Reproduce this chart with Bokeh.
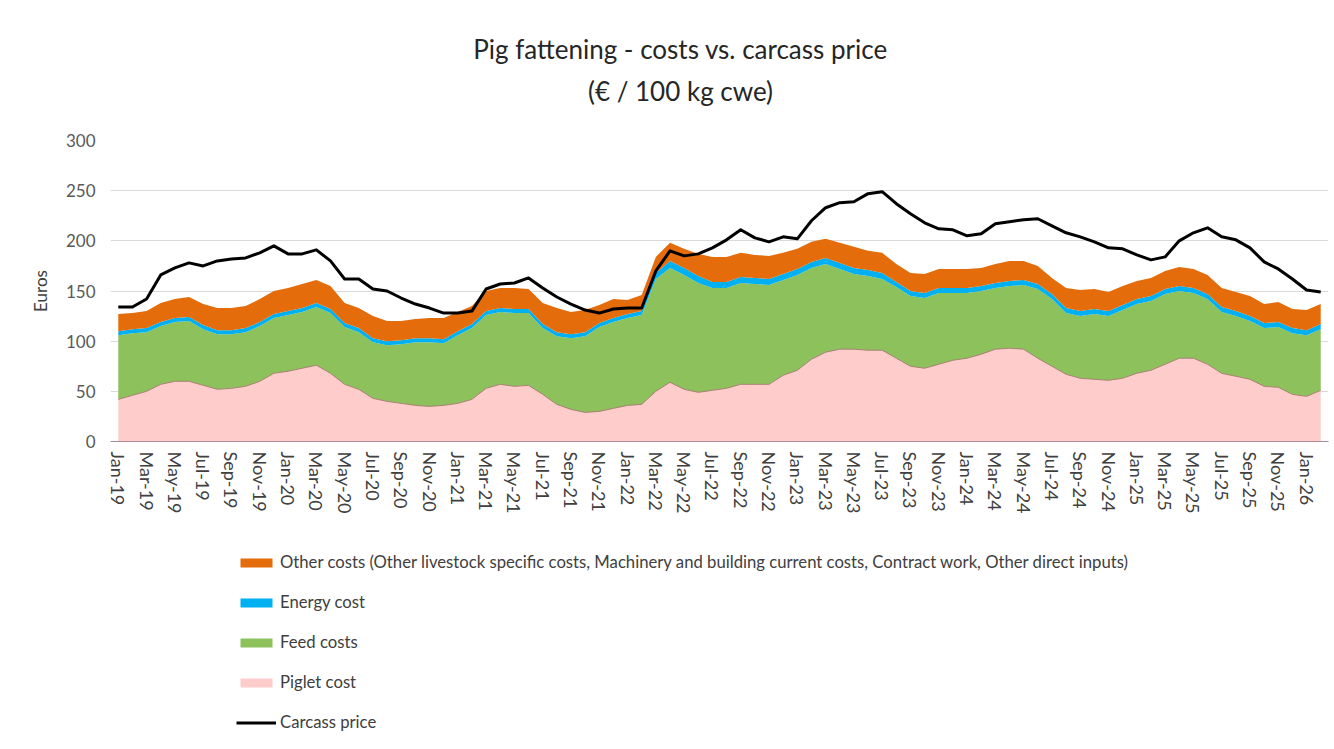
from bokeh.plotting import figure
from bokeh.models import (ColumnDataSource, Range1d, FixedTicker, Legend, LegendItem)
from bokeh.layouts import column
from bokeh.core.properties import value
from bokeh.embed import file_html
from bokeh.resources import INLINE

# ---------------- data (EUR / 100 kg cwe), Jan-19 .. Feb-26 ----------------
month_names = ["Jan", "Feb", "Mar", "Apr", "May", "Jun",
               "Jul", "Aug", "Sep", "Oct", "Nov", "Dec"]
years = ["19", "20", "21", "22", "23", "24", "25", "26"]
month_labels = [f"{m}-{y}" for y in years for m in month_names][:86]

piglet = [42, 46, 50, 57, 60, 60, 56, 52, 53, 55, 60, 68,
          70, 73, 76, 68, 57, 52, 43, 40, 38, 36, 35, 36,
          38, 42, 53, 57, 55, 56, 47, 37, 32, 29, 30, 33,
          36, 37, 50, 59, 52, 49, 51, 53, 57, 57, 57, 66,
          71, 82, 89, 92, 92, 91, 91, 83, 75, 73, 77, 81,
          83, 87, 92, 93, 92, 83, 75, 67, 63, 62, 61, 63,
          68, 71, 77, 83, 83, 77, 68, 65, 62, 55, 54, 47,
          45, 51]

feed = [64, 62, 59, 58, 59, 60, 56, 55, 54, 54, 55, 55,
        56, 56, 58, 60, 57, 57, 56, 56, 59, 63, 64, 62,
        68, 71, 73, 72, 73, 72, 66, 68, 71, 76, 84, 86,
        87, 89, 112, 114, 114, 109, 102, 100, 101, 100, 99, 95,
        95, 91, 88, 80, 75, 74, 71, 71, 70, 70, 71, 67,
        65, 63, 61, 62, 64, 69, 67, 61, 62, 65, 64, 68,
        69, 69, 70, 67, 65, 65, 61, 60, 58, 58, 60, 61,
        61, 61]

energy = [4, 4, 4, 4, 4, 4, 4, 4, 4, 4, 4, 4,
          4, 4, 4, 4, 4, 4, 4, 4, 4, 4, 4, 4,
          4, 4, 4, 4, 4, 4, 4, 4, 4, 4, 4, 4,
          4, 4, 6, 7, 7, 7, 6, 6, 6, 6, 6, 6,
          6, 6, 6, 6, 6, 6, 6, 5, 5, 5, 5, 5,
          5, 5, 5, 5, 5, 5, 5, 5, 5, 5, 5, 5,
          5, 5, 5, 5, 5, 5, 5, 5, 5, 5, 5, 5,
          5, 5]

other = [17, 16, 17, 19, 19, 20, 21, 22, 22, 22, 23, 23,
         23, 24, 23, 23, 20, 20, 22, 20, 19, 19, 20, 21,
         19, 18, 20, 20, 21, 20, 21, 24, 22, 22, 18, 19,
         14, 16, 16, 18, 19, 22, 25, 25, 24, 23, 23, 21,
         20, 20, 19, 20, 21, 19, 20, 18, 18, 19, 19, 19,
         19, 18, 19, 20, 19, 18, 16, 20, 21, 20, 19, 19,
         18, 18, 18, 19, 19, 19, 19, 19, 20, 19, 20, 19,
         20, 20]

carcass = [134, 134, 142, 166, 173, 178, 175, 180, 182, 183, 188, 195,
           187, 187, 191, 180, 162, 162, 152, 150, 143, 137, 133, 128,
           128, 130, 152, 157, 158, 163, 153, 144, 137, 131, 128, 132,
           133, 133, 170, 190, 185, 187, 193, 201, 211, 203, 199, 204,
           202, 220, 233, 238, 239, 247, 249, 237, 227, 218, 212, 211,
           205, 207, 217, 219, 221, 222, 215, 208, 204, 199, 193, 192,
           186, 181, 184, 200, 208, 213, 204, 201, 193, 179, 172, 162,
           151, 149]

series_names = ["Other costs (Other livestock specific costs, Machinery and building current costs, Contract work, Other direct inputs)",
                "Energy cost", "Feed costs", "Piglet cost", "Carcass price"]
title_lines = ["Pig fattening - costs vs. carcass price", "(€ / 100 kg cwe)"]

C_OTHER = "#E46C0A"
C_ENERGY = "#00B0F0"
C_FEED = "#8CC15C"
C_PIGLET = "#FFCCCC"
C_PRICE = "black"
FONT = "Lato"

W = 1330
FRAME_L, FRAME_R = 110, 1328   # column layout aligns all frames to these

# ---------------- title block ----------------
t = figure(width=W, height=120, output_backend="svg", toolbar_location=None,
           x_range=Range1d(FRAME_L, FRAME_R), y_range=Range1d(120, 0), min_border=0)
t.axis.visible = False
t.grid.visible = False
t.outline_line_color = None
tsrc = ColumnDataSource(dict(x=[680, 680], y=[48, 90], text=title_lines))
t.text(x="x", y="y", text="text", source=tsrc, text_align="center",
       text_baseline="middle", text_font=value(FONT), text_font_size="26px",
       text_color="#262626")

# ---------------- main chart ----------------
x = list(range(len(month_labels)))
src = ColumnDataSource(dict(x=x, piglet=piglet, feed=feed, energy=energy,
                            other=other, carcass=carcass))

p = figure(width=W, height=401, output_backend="svg", toolbar_location=None,
           x_range=Range1d(-0.55, 85.55), y_range=Range1d(0, 300),
           min_border_left=FRAME_L, min_border_right=W - FRAME_R, min_border_top=20,
           min_border_bottom=80)
p.outline_line_color = None

areas = p.varea_stack(["piglet", "feed", "energy", "other"], x="x", source=src,
                      color=[C_PIGLET, C_FEED, C_ENERGY, C_OTHER])
p.line("x", "piglet", source=src, line_color="#a98070", line_width=1)
p.line("x", "carcass", source=src, line_color=C_PRICE, line_width=3,
       line_join="round")

p.xgrid.visible = False
p.ygrid.grid_line_color = "#d9d9d9"
p.ygrid.grid_line_width = 1

p.yaxis.ticker = FixedTicker(ticks=[0, 50, 100, 150, 200, 250, 300])
p.yaxis.axis_line_color = None
p.yaxis.major_tick_line_color = None
p.yaxis.minor_tick_line_color = None
p.yaxis.major_tick_out = 0
p.yaxis.major_tick_in = 0
p.yaxis.major_label_standoff = 15
p.yaxis.major_label_text_font = FONT
p.yaxis.major_label_text_font_size = "17px"
p.yaxis.major_label_text_color = "#595959"
p.yaxis.axis_label = "Euros"
p.yaxis.axis_label_text_font = FONT
p.yaxis.axis_label_text_font_size = "17px"
p.yaxis.axis_label_text_font_style = "normal"
p.yaxis.axis_label_text_color = "#404040"
p.yaxis.axis_label_standoff = 12

p.xaxis.ticker = FixedTicker(ticks=list(range(0, 86, 2)))
p.xaxis.major_label_overrides = {i: month_labels[i] for i in range(0, 86, 2)}
p.xaxis.major_label_orientation = "vertical"
p.xaxis.axis_line_color = "#b58a98"
p.xaxis.axis_line_width = 1
p.xaxis.major_tick_line_color = None
p.xaxis.minor_tick_line_color = None
p.xaxis.major_tick_out = 0
p.xaxis.major_tick_in = 0
p.xaxis.major_label_standoff = 10
p.xaxis.major_label_text_font = FONT
p.xaxis.major_label_text_font_size = "18px"
p.xaxis.major_label_text_color = "#404040"

# ---------------- legend block ----------------
LH = 224
g = figure(width=W, height=LH, output_backend="svg", toolbar_location=None,
           x_range=Range1d(0, 1), y_range=Range1d(0, 1), min_border=0)
g.axis.visible = False
g.grid.visible = False
g.outline_line_color = None
# legend-only swatch renderers: their data lies outside the visible range
key = ColumnDataSource(dict(x=[5, 6], y1=[5, 5], y2=[6, 6]))
r_other = g.varea(x="x", y1="y1", y2="y2", source=key, fill_color=C_OTHER)
r_energy = g.varea(x="x", y1="y1", y2="y2", source=key, fill_color=C_ENERGY)
r_feed = g.varea(x="x", y1="y1", y2="y2", source=key, fill_color=C_FEED)
r_piglet = g.varea(x="x", y1="y1", y2="y2", source=key, fill_color=C_PIGLET)
r_price = g.line(x="x", y="y1", source=key, line_color=C_PRICE, line_width=3)

legend = Legend(items=[
    LegendItem(label=series_names[0], renderers=[r_other]),
    LegendItem(label=series_names[1], renderers=[r_energy]),
    LegendItem(label=series_names[2], renderers=[r_feed]),
    LegendItem(label=series_names[3], renderers=[r_piglet]),
    LegendItem(label=series_names[4], renderers=[r_price]),
], location=(236 - FRAME_L, 13))
legend.border_line_color = None
legend.background_fill_alpha = 0
legend.padding = 0
legend.margin = 0
legend.glyph_width = 40
legend.glyph_height = 11
legend.label_standoff = 4
legend.label_height = 20
legend.spacing = 20
legend.label_text_font = FONT
legend.label_text_font_size = "16.7px"
legend.label_text_color = "#404040"
g.add_layout(legend, "center")

layout = column(t, p, g, spacing=0)
open("out.html", "w").write(file_html(layout, INLINE))
